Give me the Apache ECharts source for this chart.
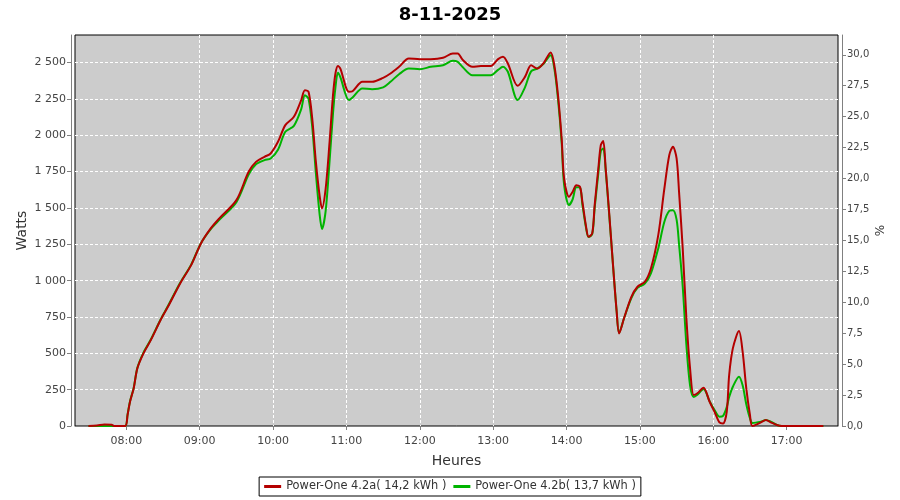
<!DOCTYPE html>
<html>
<head>
<meta charset="utf-8">
<title>8-11-2025</title>
<script src="https://cdn.jsdelivr.net/npm/echarts@6/dist/echarts.min.js"></script>
<style>
  html, body { margin: 0; padding: 0; background: #fff; }
  #chart { width: 900px; height: 500px; }
</style>
</head>
<body>
<div id="chart"></div>
<script>
// heure de la mesure
const times = [
  '07:29','07:36','07:42','07:48','07:50','07:59','08:01','08:03','08:06','08:09',
  '08:14','08:20','08:28','08:34','08:44','08:53','09:01','09:09','09:16','09:30',
  '09:40','09:46','09:53','09:58','10:04','10:10','10:17','10:23','10:26','10:29',
  '10:32','10:35','10:38','10:40','10:43','10:46','10:49','10:51','10:53','10:55',
  '11:02','11:05','11:13','11:21','11:30','11:36','11:43','11:51','12:00','12:09',
  '12:19','12:27','12:31','12:35','12:43','12:50','12:58','13:04','13:08','13:12',
  '13:20','13:26','13:31','13:36','13:41','13:47','13:50','13:53','13:56','13:58',
  '14:02','14:05','14:08','14:11','14:13','14:16','14:18','14:21','14:23','14:26',
  '14:28','14:30','14:32','14:35','14:38','14:41','14:43','14:47','14:53','14:58',
  '15:04','15:09','15:15','15:20','15:24','15:27','15:30','15:32','15:35','15:38',
  '15:41','15:44','15:47','15:52','15:57','16:01','16:05','16:08','16:11','16:13',
  '16:16','16:21','16:24','16:27','16:30','16:32','16:39','16:43','16:47','16:52',
  '16:56','17:30'
];

// Power-One 4.2a (W)
const powerA = [
  0, 3, 10, 8, 0, 0, 76, 167, 259, 397,
  500, 591, 729, 820, 981, 1107, 1256, 1359, 1428, 1554,
  1749, 1817, 1852, 1875, 1955, 2070, 2127, 2242, 2310, 2299,
  2116, 1817, 1588, 1497, 1634, 1932, 2276, 2425, 2477, 2459,
  2299, 2303, 2368, 2368, 2395, 2425, 2471, 2528, 2524, 2524,
  2533, 2563, 2563, 2520, 2471, 2477, 2477, 2524, 2540, 2494,
  2340, 2402, 2482, 2459, 2494, 2570, 2482, 2276, 1978, 1703,
  1577, 1611, 1657, 1645, 1540, 1370, 1302, 1325, 1520, 1772,
  1932, 1960, 1772, 1451, 1107, 786, 637, 741, 889, 958,
  992, 1084, 1313, 1634, 1863, 1921, 1841, 1611, 1222, 741,
  397, 213, 225, 264, 167, 98, 25, 18, 98, 351,
  534, 653, 511, 259, 76, 0, 25, 41, 25, 7,
  0, 0
];

// Power-One 4.2b (W)
const powerB = [
  0, 0, 0, 0, 0, 0, 80, 170, 262, 400,
  505, 595, 733, 825, 985, 1110, 1258, 1355, 1418, 1540,
  1730, 1800, 1829, 1840, 1900, 2024, 2065, 2180, 2276, 2250,
  2060, 1740, 1460, 1355, 1480, 1800, 2150, 2330, 2430, 2400,
  2242, 2260, 2322, 2317, 2330, 2368, 2420, 2459, 2455, 2471,
  2482, 2512, 2505, 2470, 2413, 2413, 2413, 2450, 2471, 2437,
  2242, 2330, 2440, 2459, 2490, 2551, 2460, 2250, 1950, 1660,
  1520, 1560, 1643, 1640, 1520, 1360, 1300, 1320, 1500, 1740,
  1890, 1910, 1760, 1440, 1107, 786, 640, 741, 880, 950,
  980, 1050, 1222, 1405, 1480, 1485, 1420, 1250, 960, 560,
  280, 200, 215, 255, 170, 110, 64, 70, 130, 200,
  270, 339, 280, 150, 53, 21, 30, 41, 30, 7,
  0, 0
];

const hourTicks = ['08:00','09:00','10:00','11:00','12:00','13:00','14:00','15:00','16:00','17:00'];

const nameA = 'Power-One 4.2a( 14,2 kWh )';
const nameB = 'Power-One 4.2b( 13,7 kWh )';

function toMin(s) {
  const p = s.split(':');
  return Number(p[0]) * 60 + Number(p[1]);
}
function toHHMM(v) {
  const h = Math.floor(v / 60), m = Math.round(v % 60);
  return String(h).padStart(2, '0') + ':' + String(m).padStart(2, '0');
}

const font = 'DejaVu Sans';
const axisGrey = '#808080';
const labelCol = '#444';
const grid = { color: '#ffffff', type: [3, 2], width: 1 };

const chart = echarts.init(document.getElementById('chart'));
chart.setOption({
  animation: false,
  backgroundColor: '#fff',
  title: {
    text: '8-11-2025',
    left: 'center',
    top: 1,
    textStyle: { fontFamily: font, fontSize: 18, fontWeight: 'bold', color: '#000' }
  },
  legend: {
    data: [nameA, nameB],
    left: 'center',
    top: 477,
    padding: [4, 5],
    borderColor: '#000',
    borderWidth: 1,
    borderRadius: 0,
    itemGap: 7,
    itemWidth: 17,
    itemHeight: 3,
    icon: 'rect',
    textStyle: { fontFamily: font, fontSize: 11.4, color: '#333' }
  },
  grid: {
    left: 75, right: 62, top: 35, bottom: 74,
    show: true,
    backgroundColor: '#cccccc',
    borderColor: '#000',
    borderWidth: 1
  },
  xAxis: {
    type: 'value',
    min: toMin('07:18'),
    max: toMin('17:42'),
    offset: 4,
    name: 'Heures',
    nameLocation: 'middle',
    nameGap: 24,
    nameMoveOverlap: false,
    nameTextStyle: { fontFamily: font, fontSize: 14, color: '#333' },
    axisLine: { lineStyle: { color: axisGrey } },
    axisTick: { length: 4, lineStyle: { color: axisGrey }, customValues: hourTicks.map(toMin) },
    axisLabel: {
      customValues: hourTicks.map(toMin),
      formatter: toHHMM,
      fontFamily: font, fontSize: 11, color: labelCol, margin: 6
    },
    splitLine: { show: true, showMinLine: false, showMaxLine: false, lineStyle: grid }
  },
  yAxis: [
    {
      type: 'value',
      min: 0, max: 2690, interval: 250,
      offset: 4,
      name: 'Watts',
      nameLocation: 'middle',
      nameGap: 42,
      nameMoveOverlap: false,
      nameTextStyle: { fontFamily: font, fontSize: 14, color: '#333' },
      axisLine: { show: true, lineStyle: { color: axisGrey } },
      axisTick: { show: true, length: 4, lineStyle: { color: axisGrey } },
      axisLabel: {
        showMaxLabel: false,
        fontFamily: font, fontSize: 11, color: labelCol, margin: 5,
        formatter: v => String(v).replace(/\B(?=(\d{3})+(?!\d))/g, ' ')
      },
      splitLine: { show: true, showMinLine: false, showMaxLine: false, lineStyle: grid }
    },
    {
      type: 'value',
      position: 'right',
      min: 0, max: 31.6, interval: 2.5,
      offset: 4,
      name: '%',
      nameLocation: 'middle',
      nameGap: 33,
      nameMoveOverlap: false,
      nameTextStyle: { fontFamily: font, fontSize: 12, color: '#333' },
      axisLine: { show: true, lineStyle: { color: axisGrey } },
      axisTick: { show: true, length: 4, lineStyle: { color: axisGrey } },
      axisLabel: {
        showMaxLabel: false,
        fontFamily: font, fontSize: 10, color: labelCol, margin: 5,
        formatter: v => v.toFixed(1).replace('.', ',')
      },
      splitLine: { show: false }
    }
  ],
  series: [
    {
      name: nameA,
      type: 'line',
      z: 3,
      data: times.map((t, i) => [toMin(t), powerA[i]]),
      showSymbol: false,
      smooth: 0.3,
      lineStyle: { width: 2, color: '#b40000' },
      itemStyle: { color: '#b40000' }
    },
    {
      name: nameB,
      type: 'line',
      z: 2,
      data: times.map((t, i) => [toMin(t), powerB[i]]),
      showSymbol: false,
      smooth: 0.3,
      lineStyle: { width: 2, color: '#00b400' },
      itemStyle: { color: '#00b400' }
    }
  ]
});
</script>
</body>
</html>
